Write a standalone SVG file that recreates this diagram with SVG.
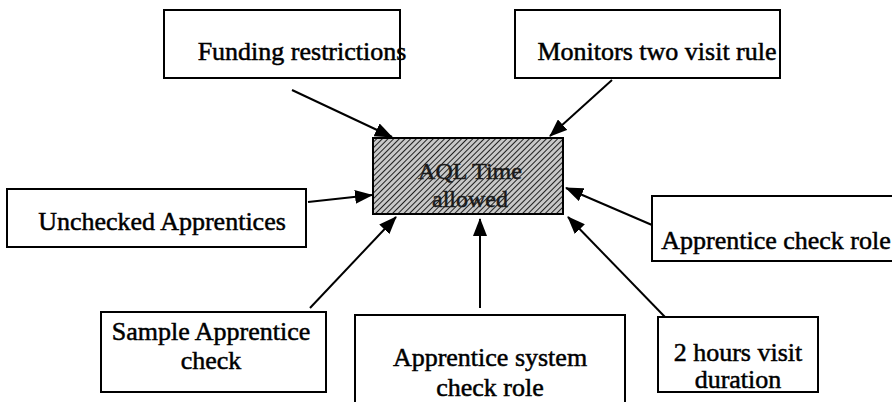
<svg xmlns="http://www.w3.org/2000/svg" width="892" height="402" viewBox="0 0 892 402">
<defs>
<pattern id="hatch" width="4" height="4" patternUnits="userSpaceOnUse" patternTransform="rotate(45)">
<rect width="4" height="4" fill="#c8c8c8"/>
<line x1="0" y1="0" x2="0" y2="4" stroke="#202020" stroke-width="2"/>
</pattern>
<marker id="a" viewBox="0 0 18 14" refX="17" refY="7" markerWidth="18" markerHeight="14" markerUnits="userSpaceOnUse" orient="auto">
<path d="M0,0 L18,7 L0,14 z" fill="#000"/>
</marker>
<style>
.box{fill:#fff;stroke:#000;stroke-width:2}
.c{stroke:#000;stroke-width:2;fill:none;marker-end:url(#a)}
</style>
</defs>
<g id="connectors">
<line class="c" x1="292" y1="90" x2="392" y2="137"/>
<line class="c" x1="612" y1="80" x2="550" y2="136"/>
<line class="c" x1="308" y1="202" x2="372" y2="195"/>
<line class="c" x1="652" y1="225" x2="566" y2="188"/>
<line class="c" x1="310" y1="308" x2="396" y2="217"/>
<line class="c" x1="480" y1="308" x2="480" y2="219"/>
<line class="c" x1="665" y1="317" x2="568" y2="217"/>
</g>
<g font-family="'Liberation Serif', 'Times New Roman', serif" font-size="26" text-anchor="middle" fill="#000" stroke="#000" stroke-width="0.5">
<g id="center">
<rect x="373" y="138" width="190" height="76" fill="url(#hatch)" stroke="#000" stroke-width="2"/>
<text x="470" y="179" font-size="24" fill="#1a1a1a" stroke="#1a1a1a">AQL Time</text>
<text x="470" y="207" font-size="24" fill="#1a1a1a" stroke="#1a1a1a">allowed</text>
</g>
<g id="funding">
<rect class="box" x="164" y="10" width="236" height="68"/>
<text x="302" y="60">Funding restrictions</text>
</g>
<g id="monitors">
<rect class="box" x="515" y="10" width="265" height="68"/>
<text x="657" y="60">Monitors two visit rule</text>
</g>
<g id="unchecked">
<rect class="box" x="7" y="189" width="299" height="58"/>
<text x="162" y="230">Unchecked Apprentices</text>
</g>
<g id="checkrole">
<rect class="box" x="652" y="196" width="250" height="65"/>
<text x="776" y="249">Apprentice check role</text>
</g>
<g id="sample">
<rect class="box" x="101" y="312" width="225" height="80"/>
<text x="211" y="340">Sample Apprentice</text>
<text x="211" y="369">check</text>
</g>
<g id="system">
<rect class="box" x="355" y="315" width="270" height="95"/>
<text x="490" y="366">Apprentice system</text>
<text x="490" y="396">check role</text>
</g>
<g id="hours">
<rect class="box" x="658" y="317" width="160" height="75"/>
<text x="738" y="361">2 hours visit</text>
<text x="738" y="388">duration</text>
</g>
</g>
</svg>
